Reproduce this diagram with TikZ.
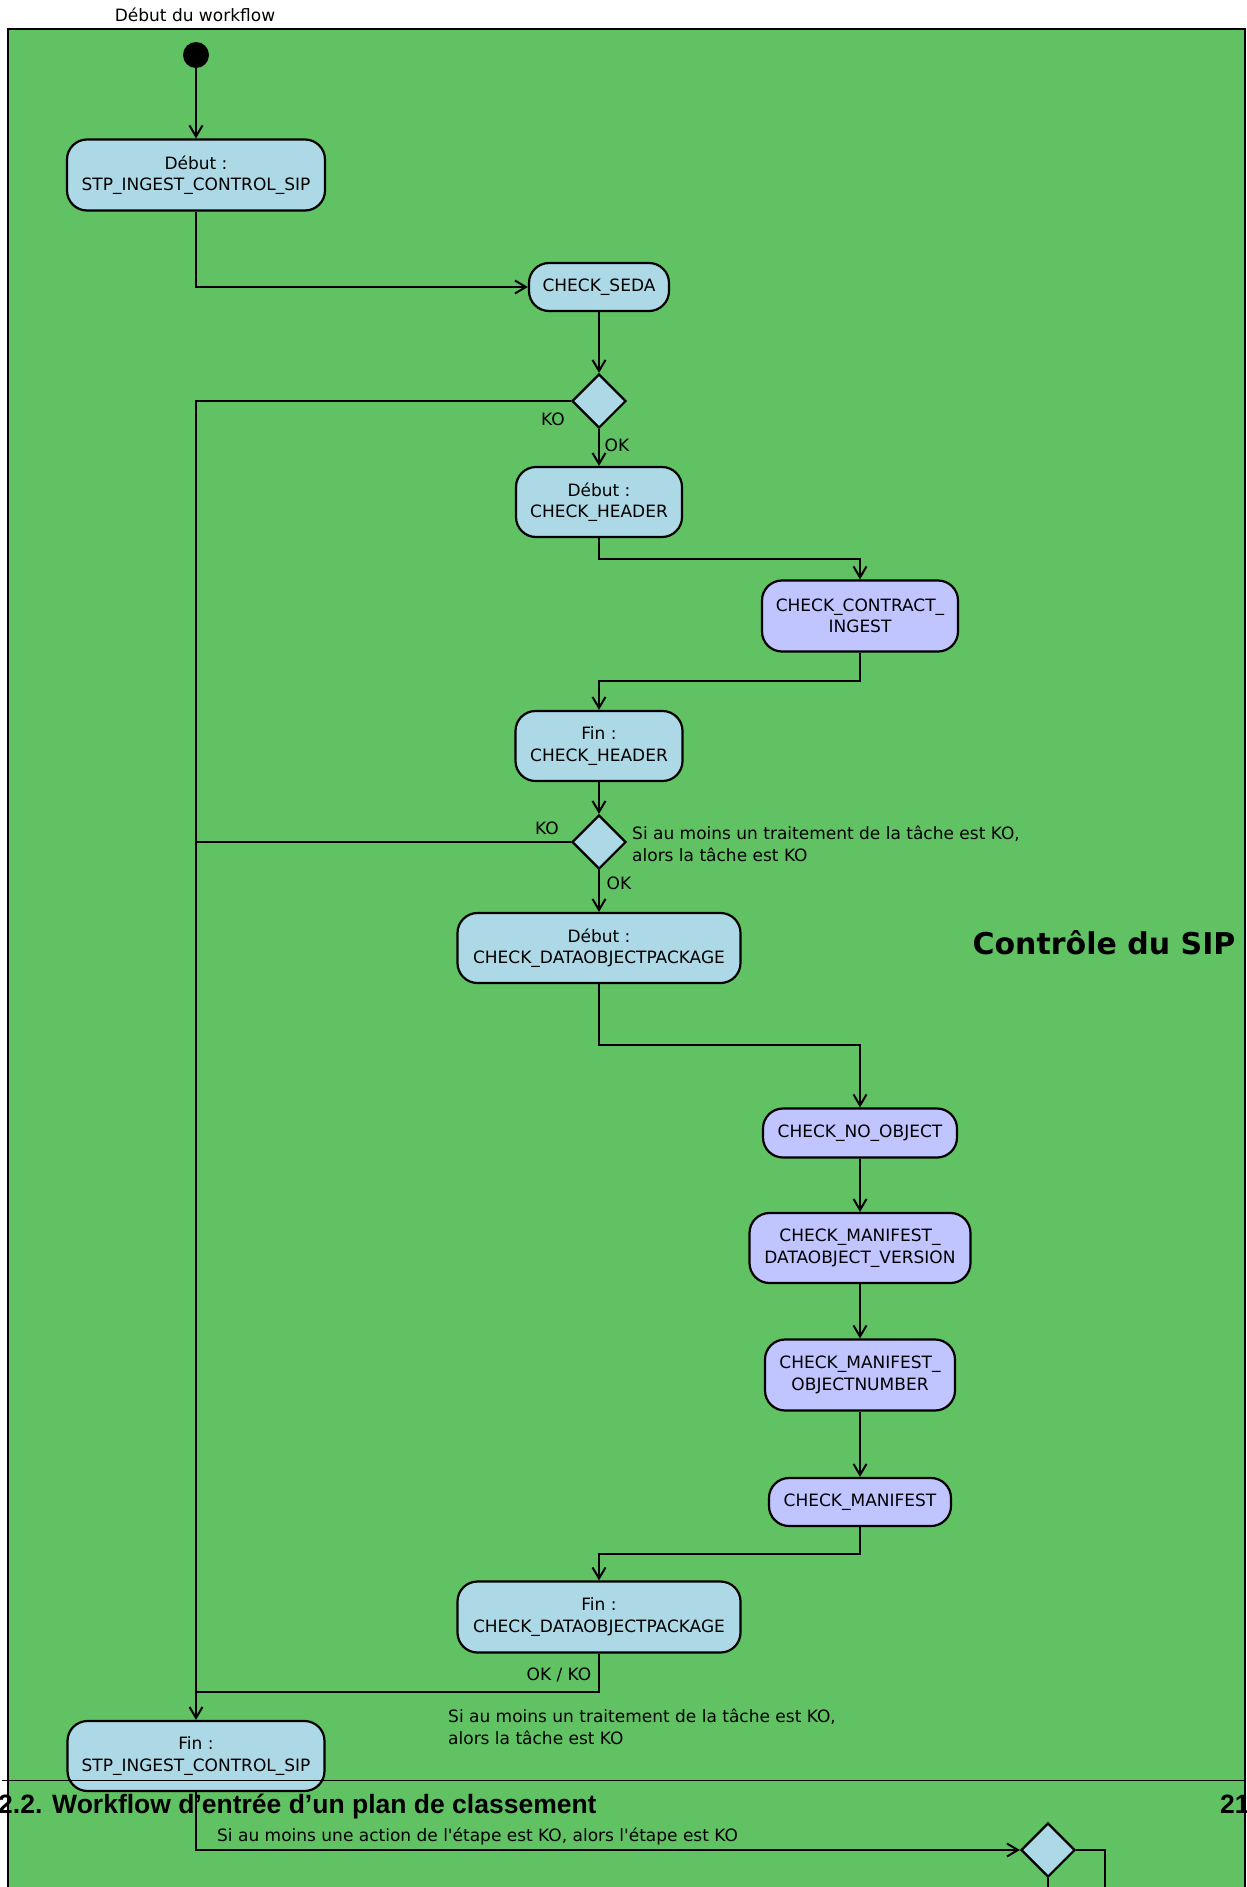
\documentclass[tikz,border=0pt]{standalone}
\usepackage{fontspec}
\setmainfont{DejaVu Sans}
\newfontfamily\headfont{Liberation Sans}
\usetikzlibrary{arrows.meta,shapes.geometric}
\definecolor{swim}{RGB}{97,194,99}
\definecolor{actblue}{RGB}{173,216,230}
\definecolor{actlav}{RGB}{192,196,255}
\begin{document}
\begin{tikzpicture}[x=1pt,y=-1pt,
  every node/.style={font=\fontsize{17}{21.5}\selectfont, text=black},
  act/.style={draw=black, line width=2.2pt, rounded corners=20pt, inner sep=0pt, align=center},
  actb/.style={act, fill=actblue},
  actl/.style={act, fill=actlav},
  dec/.style={diamond, draw=black, line width=2.2pt, fill=actblue, minimum width=54pt, minimum height=54pt, inner sep=0pt},
  flow/.style={line width=2pt, -{Straight Barb[length=11pt,width=13pt]}},
  link/.style={line width=2pt},
  lbl/.style={inner sep=0pt},
  headtxt/.style={inner sep=0pt, anchor=base west, font=\headfont\bfseries\fontsize{26.5}{30}\selectfont}
]
\useasboundingbox (0,0) rectangle (1247,1887);

% swimlane
\fill[swim] (8,29) rectangle (1245,1887);
\draw[line width=2.5pt] (8,1887) -- (8,29) -- (1245,29) -- (1245,1887);
\node[lbl] (lanetitle) at (195,15) {Début du workflow};
\node[lbl, font=\bfseries\fontsize{30}{36}\selectfont] (lanename) at (1104,943) {Contrôle du SIP};

% activities
\node[circle, fill=black, minimum size=26pt, inner sep=0pt] (start) at (196,55) {};
\node[actb, minimum width=258pt, minimum height=71pt] (n1) at (196,175) {Début :\\STP\_INGEST\_CONTROL\_SIP};
\node[actb, minimum width=140pt, minimum height=48pt] (seda) at (599,287) {CHECK\_SEDA};
\node[dec] (d1) at (599,401) {};
\node[actb, minimum width=166pt, minimum height=70pt] (hdr1) at (599,502) {Début :\\CHECK\_HEADER};
\node[actl, minimum width=196pt, minimum height=71pt] (contract) at (860,616) {CHECK\_CONTRACT\_\\INGEST};
\node[actb, minimum width=167pt, minimum height=70pt] (hdr2) at (599,746) {Fin :\\CHECK\_HEADER};
\node[dec] (d2) at (599,842) {};
\node[actb, minimum width=283pt, minimum height=70pt] (dop1) at (599,948) {Début :\\CHECK\_DATAOBJECTPACKAGE};
\node[actl, minimum width=194pt, minimum height=49pt] (noobj) at (860,1133) {CHECK\_NO\_OBJECT};
\node[actl, minimum width=221pt, minimum height=70pt] (mdov) at (860,1248) {CHECK\_MANIFEST\_\\DATAOBJECT\_VERSION};
\node[actl, minimum width=190pt, minimum height=71pt] (mon) at (860,1375) {CHECK\_MANIFEST\_\\OBJECTNUMBER};
\node[actl, minimum width=182pt, minimum height=48pt] (man) at (860,1502) {CHECK\_MANIFEST};
\node[actb, minimum width=283pt, minimum height=71pt] (dop2) at (599,1617) {Fin :\\CHECK\_DATAOBJECTPACKAGE};
\node[actb, minimum width=257pt, minimum height=70pt] (n2) at (196,1756) {Fin :\\STP\_INGEST\_CONTROL\_SIP};
\node[dec] (d3) at (1048,1850) {};

% elbow points
\coordinate (e1) at (599,559);
\coordinate (e2) at (860,681);
\coordinate (e3) at (599,1045);
\coordinate (e4) at (860,1554);
\coordinate (e5) at (599,1692);
\coordinate (x1) at (1105,1887);

% connectors
\draw[flow] (start) -- (n1);
\draw[flow] (n1.south) |- (seda.west);
\draw[flow] (seda) -- (d1);
\draw[flow] (d1) -- (hdr1);
\draw[flow] (d1.west) -| (n2.north);
\draw[flow] (hdr1) -- (e1) -| (contract.north);
\draw[flow] (contract) -- (e2) -| (hdr2.north);
\draw[flow] (hdr2) -- (d2);
\draw[link] (d2.west) -- (d2.west -| n2.north);
\draw[flow] (d2) -- (dop1);
\draw[flow] (dop1) -- (e3) -| (noobj.north);
\draw[flow] (noobj) -- (mdov);
\draw[flow] (mdov) -- (mon);
\draw[flow] (mon) -- (man);
\draw[flow] (man) -- (e4) -| (dop2.north);
\draw[link] (dop2) -- (e5) -- (e5 -| n2.north);
\draw[flow] (n2.south) |- (d3.west);
\draw[link] (d3.east) -| (x1);
\draw[link] (d3.south) -- (d3.south |- x1);

% guard and note labels
\node[lbl] (ko1) at (553,419) {KO};
\node[lbl] (ok1) at (617,445) {OK};
\node[lbl] (ko2) at (547,828) {KO};
\node[lbl] (ok2) at (619,883) {OK};
\node[lbl, anchor=west, align=left] (note1) at (632,844) {Si au moins un traitement de la tâche est KO,\\alors la tâche est KO};
\node[lbl] (okko) at (559,1675) {OK / KO};
\node[lbl, anchor=west, align=left] (note2) at (448,1727) {Si au moins un traitement de la tâche est KO,\\alors la tâche est KO};
\node[lbl, anchor=west] (note3) at (217,1836) {Si au moins une action de l\textquotesingle étape est KO, alors l\textquotesingle étape est KO};

% page header
\draw[line width=1pt] (2,1780) -- (1245,1780);
\node[headtxt] (sect) at (-2,1813) {2.2. Workflow d’entrée d’un plan de classement};
\node[headtxt] (pagenum) at (1220,1813) {21};
\end{tikzpicture}
\end{document}
